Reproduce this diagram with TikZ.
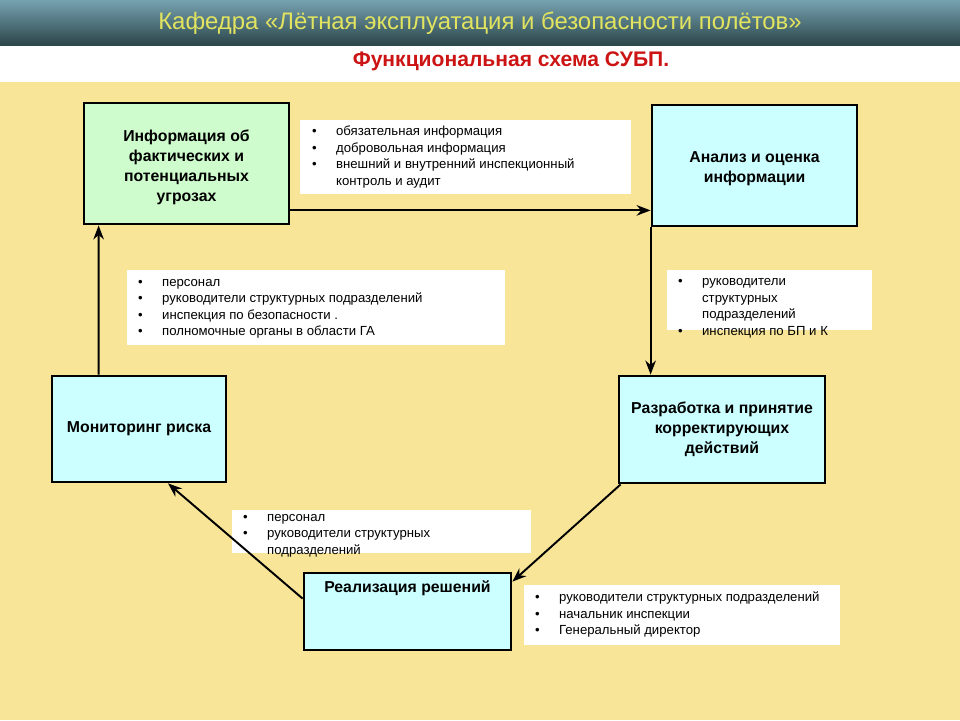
\documentclass[tikz,border=0pt]{standalone}
\usepackage{fontspec}
\setmainfont{Liberation Sans}
\usetikzlibrary{arrows.meta,calc}
\definecolor{bgyellow}{RGB}{248,229,152}
\definecolor{boxgreen}{RGB}{206,252,204}
\definecolor{boxcyan}{RGB}{204,255,255}
\definecolor{titleyellow}{RGB}{226,228,96}
\definecolor{subred}{RGB}{204,20,20}
\newcommand{\blist}[1]{\begin{tabular}{@{}l@{\hspace{3.9mm}}l@{}}#1\end{tabular}}
\begin{document}
\begin{tikzpicture}[x=0.02cm,y=-0.02cm,
  blockbox/.style={draw,line width=1.6pt,inner sep=0pt,align=center,
    font=\fontsize{9}{11.4}\selectfont\bfseries},
  notebox/.style={fill=white,inner sep=0pt},
  notetext/.style={anchor=west,inner sep=0pt,
    font=\fontsize{7.5}{9.4}\selectfont},
  link/.style={line width=1.1pt,-{Stealth[length=8pt,width=6pt]}}]
\fill[bgyellow] (0,0) rectangle (960,720);
\fill[white] (0,45) rectangle (960,82);
\shade[top color={rgb,255:red,118;green,162;blue,176},bottom color={rgb,255:red,44;green,70;blue,74}]
  (0,0) rectangle (960,45);
\node[text=titleyellow,font=\fontsize{13.6}{16}\selectfont] (title) at (480,23) {Кафедра «Лётная эксплуатация и безопасности полётов»};
\node[text=subred,font=\fontsize{12}{14}\selectfont\bfseries] (sub) at (511,61) {Функциональная схема СУБП.};

\node[blockbox,fill=boxgreen,minimum width=4.1cm,minimum height=2.42cm] (info) at (186.5,163.5) {};
\node[blockbox,draw=none] (infotxt) at ($(info.center)+(0,4)$)
  {Информация об\\фактических и\\потенциальных\\угрозах};
\node[blockbox,fill=boxcyan,minimum width=4.1cm,minimum height=2.42cm] (ana) at (754.5,165.5) {};
\node[blockbox,draw=none] (anatxt) at ($(ana.center)+(0,3)$) {Анализ и оценка\\информации};
\node[blockbox,fill=boxcyan,minimum width=4.12cm,minimum height=2.14cm] (dev) at (722,429.5)
  {Разработка и принятие\\корректирующих\\действий};
\node[blockbox,fill=boxcyan,minimum width=3.48cm,minimum height=2.12cm] (mon) at (139,429)
  {Мониторинг риска};
\node[blockbox,fill=boxcyan,minimum width=4.14cm,minimum height=1.54cm] (real) at (407.5,611.5) {};
\node[blockbox,draw=none,anchor=north] (realtxt) at ($(real.north)+(0,8)$) {Реализация решений};

\node[notebox,minimum width=6.62cm,minimum height=1.48cm] (n1) at (465.5,157) {};
\node[notetext] (t1) at ($(n1.west)+(12,0)$) {\blist{•&обязательная информация\\•&добровольная информация\\
  •&внешний и внутренний инспекционный\\&контроль и аудит}};
\node[notebox,minimum width=7.56cm,minimum height=1.5cm] (n2) at (316,307.5) {};
\node[notetext] (t2) at ($(n2.west)+(11,0)$) {\blist{•&персонал\\•&руководители структурных подразделений\\
  •&инспекция по безопасности .\\•&полномочные органы в области ГА}};
\node[notebox,minimum width=4.1cm,minimum height=1.2cm] (n3) at (769.5,300) {};
\node[notetext] (t3) at ($(n3.west)+(11,7)$) {\blist{•&руководители\\&структурных\\&подразделений\\•&инспекция по БП и К}};
\node[notebox,minimum width=5.98cm,minimum height=0.86cm] (n4) at (381.5,531.5) {};
\node[notetext] (t4) at ($(n4.west)+(11,3)$) {\blist{•&персонал\\•&руководители структурных\\&подразделений}};
\node[notebox,minimum width=6.32cm,minimum height=1.2cm] (n5) at (682,615) {};
\node[notetext] (t5) at ($(n5.west)+(11,0)$) {\blist{•&руководители структурных подразделений\\
  •&начальник инспекции\\•&Генеральный директор}};

\coordinate (p1) at ($(info.south east)+(0,-15)$);
\draw[link] (p1) -- (ana.west |- p1);
\draw[link] (ana.south west) -- (dev.north -| ana.south west);
\draw[link] ($(dev.south west)+(3,0)$) -- ($(real.north east)+(0,10)$);
\draw[link] ($(real.north west)+(0,27)$) -- ($(mon.south)+(29,0)$);
\draw[link] ($(mon.north west)+(48,0)$) -- ($(info.south west)+(16,0)$);
\end{tikzpicture}
\end{document}
